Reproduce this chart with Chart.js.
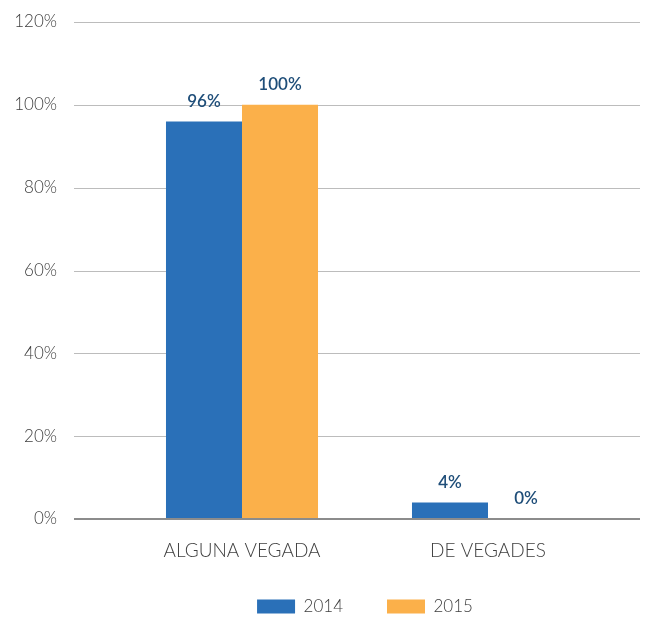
<!DOCTYPE html>
<html>
<head>
<meta charset="utf-8">
<script src="https://cdn.jsdelivr.net/npm/chart.js@4/dist/chart.umd.min.js"></script>
<style>
  html, body { margin: 0; padding: 0; background: #ffffff; }
  #wrap { width: 654px; height: 618px; }
</style>
</head>
<body>
<div id="wrap"><canvas id="c" width="654" height="618"></canvas></div>
<script>
const categories = ["ALGUNA VEGADA", "DE VEGADES"];
const seriesNames = ["2014", "2015"];
const values2014 = [96, 4];
const values2015 = [100, 0];
const yTicks = [0, 20, 40, 60, 80, 100, 120];

const FONT = "Lato, 'Open Sans', sans-serif";

const gridPlugin = {
  id: 'extGrid',
  afterLayout(chart) {
    // let the category labels draw below the compact axis box without clipping
    const x = chart.scales.x;
    x.bottom = x.top + 60;
  },
  beforeDatasetsDraw(chart) {
    const ctx = chart.ctx;
    const y = chart.scales.y;
    ctx.save();
    yTicks.forEach(v => {
      if (v === 0) return;
      const py = Math.round(y.getPixelForValue(v));
      ctx.strokeStyle = '#bcbcbc';
      ctx.lineWidth = 1;
      ctx.beginPath();
      ctx.moveTo(74, py + 0.5);
      ctx.lineTo(640, py + 0.5);
      ctx.stroke();
    });
    ctx.restore();
  },
  afterDatasetsDraw(chart) {
    const ctx = chart.ctx;
    const y = chart.scales.y;
    const py = Math.round(y.getPixelForValue(0));
    ctx.save();
    ctx.strokeStyle = '#8c8c8c';
    ctx.lineWidth = 2;
    ctx.beginPath();
    ctx.moveTo(74, py);
    ctx.lineTo(640, py);
    ctx.stroke();
    ctx.fillStyle = '#1f4e79';
    ctx.font = "600 17px " + FONT;
    ctx.textAlign = 'center';
    ctx.textBaseline = 'middle';
    chart.data.datasets.forEach((ds, di) => {
      const meta = chart.getDatasetMeta(di);
      meta.data.forEach((bar, i) => {
        ctx.fillText(ds.data[i] + '%', bar.x, bar.y - 20);
      });
    });
    ctx.restore();
  }
};

new Chart(document.getElementById('c'), {
  type: 'bar',
  data: {
    labels: categories,
    datasets: [
      { label: seriesNames[0], data: values2014, backgroundColor: '#2a70b8', categoryPercentage: 0.618, barPercentage: 1 },
      { label: seriesNames[1], data: values2015, backgroundColor: '#fbb04a', categoryPercentage: 0.618, barPercentage: 1 }
    ]
  },
  options: {
    responsive: false,
    animation: false,
    devicePixelRatio: 1,
    layout: { padding: { top: 22, right: 43, left: 0, bottom: -7 } },
    plugins: {
      tooltip: { enabled: false },
      legend: {
        position: 'bottom',
        fullSize: false,
        labels: {
          boxWidth: 38,
          boxHeight: 14,
          padding: 44,
          color: '#404040',
          font: { family: FONT, size: 17, weight: '300' }
        }
      }
    },
    scales: {
      x: {
        afterFit(scale) { scale.height = 35; },
        grid: { display: false, drawTicks: false },
        border: { display: false },
        ticks: {
          padding: 20,
          color: '#404040',
          font: { family: FONT, size: 19, weight: '300' }
        }
      },
      y: {
        min: 0,
        max: 120,
        afterBuildTicks(scale) { scale.ticks = yTicks.map(v => ({ value: v })); },
        afterFit(scale) { scale.width = 119; scale.paddingTop = 0; scale.paddingBottom = 0; },
        grid: { display: false, drawTicks: false },
        border: { display: false },
        ticks: {
          padding: 62,
          color: '#404040',
          font: { family: FONT, size: 17, weight: '300' },
          callback: v => v + '%'
        }
      }
    }
  },
  plugins: [gridPlugin]
});
</script>
</body>
</html>
